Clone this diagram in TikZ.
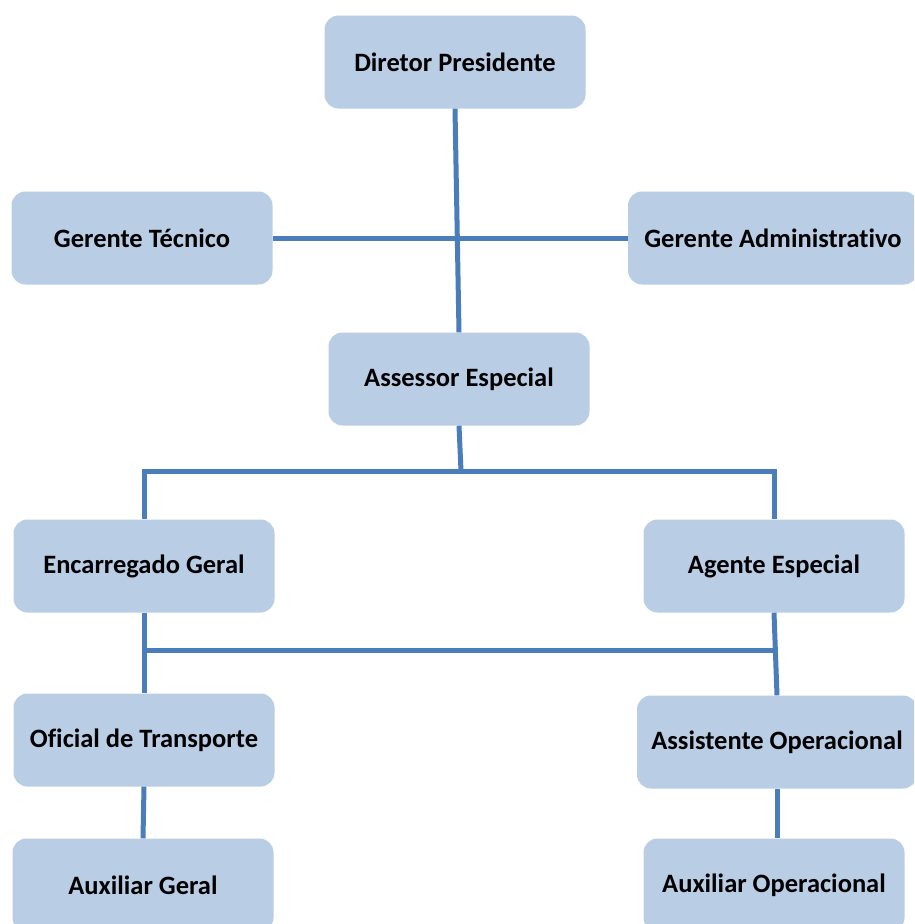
\documentclass[tikz,border=0pt]{standalone}
\usepackage{fontspec}
\setmainfont[Ligatures=NoCommon]{Carlito}
\usetikzlibrary{positioning,calc}
\definecolor{caixaazul}{RGB}{185,205,229}
\definecolor{linhaazul}{RGB}{74,126,187}
\tikzset{
  caixa/.style={fill=caixaazul,rounded corners=14pt,minimum width=261pt,minimum height=93pt,
                inner sep=2pt,align=center,font=\fontsize{26.5}{30}\selectfont\bfseries},
  linha/.style={draw=linhaazul,line width=5pt},
}
\begin{document}
\begin{tikzpicture}[x=1pt,y=-1pt]
  \clip (0,0) rectangle (914,924);
  \fill[white] (0,0) rectangle (914,924);
  \node[caixa] (dp) at (455,62) {Diretor Presidente};
  \node[caixa] (gt) at (142,238) {Gerente Técnico};
  \node[caixa,minimum width=290pt] (ga) at (773,238) {Gerente Administrativo};
  \node[caixa] (ae) at (459,379) {Assessor Especial};
  \node[caixa] (eg) at (144,566) {Encarregado Geral};
  \node[caixa] (ag) at (774,566) {Agente Especial};
  \node[caixa] (ot) at (144,740) {Oficial de Transporte};
  \node[caixa,minimum width=280pt] (ao) at (777,742) {Assistente Operacional};
  \node[caixa] (ax) at (143,885) {Auxiliar Geral};
  \node[caixa] (axo) at (774,885) {Auxiliar Operacional};
  % ligacoes
  \draw[linha] (dp.south) -- (ae.north);
  \draw[linha] (gt.east) -- (ga.west);
  \coordinate (r1) at (461,471);
  \coordinate (r2) at (460,650);
  \draw[linha] (ae.south) -- (r1);
  \draw[linha] (eg.north) |- (r1) -| (ag.north);
  \draw[linha] (eg.south) -- (ot.north);
  \draw[linha] (ag.south) -- (ao.north);
  \draw[linha] (eg.south |- r2) -- (ag.south |- r2);
  \draw[linha] (ot.south) -- (ax.north);
  \draw[linha] (ao.south) -- (ao.south |- axo.north);
\end{tikzpicture}
\end{document}
